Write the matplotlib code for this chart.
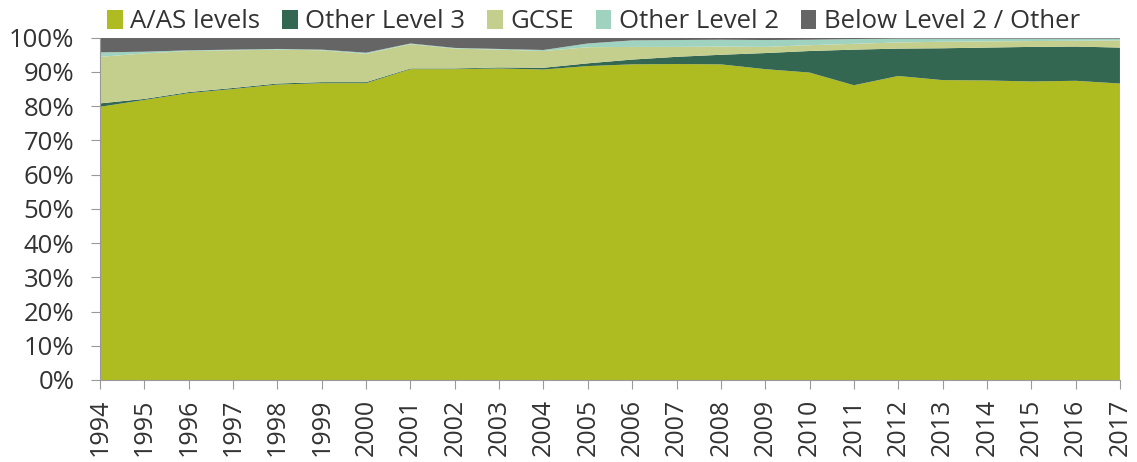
import matplotlib.pyplot as plt
from matplotlib.patches import Patch

# Andel per kvalifikation (%), 1994-2017
years = list(range(1994, 2018))
a_as = [79.8, 81.8, 83.8, 85.0, 86.3, 86.7, 86.7, 90.8, 90.8, 91.0, 90.7, 91.7,
        92.2, 92.3, 92.2, 90.8, 89.8, 86.1, 88.8, 87.6, 87.5, 87.2, 87.4, 86.6]
other_l3 = [1.0, 0.3, 0.3, 0.3, 0.3, 0.3, 0.3, 0.2, 0.2, 0.3, 0.5, 0.8,
            1.4, 2.1, 2.8, 4.7, 6.3, 10.4, 8.0, 9.3, 9.6, 10.1, 10.0, 10.5]
gcse = [13.6, 13.3, 12.0, 11.0, 9.9, 9.3, 8.3, 7.1, 5.8, 5.2, 4.9, 4.7,
        3.7, 2.9, 2.4, 1.8, 1.7, 1.7, 1.8, 1.9, 1.8, 1.7, 1.7, 2.1]
other_l2 = [1.3, 0.5, 0.2, 0.2, 0.2, 0.2, 0.3, 0.2, 0.2, 0.2, 0.3, 1.1,
            1.9, 2.0, 2.0, 2.0, 1.6, 1.4, 1.1, 0.9, 0.8, 0.7, 0.6, 0.5]
below_l2 = [4.3, 4.1, 3.7, 3.5, 3.3, 3.5, 4.4, 1.7, 3.0, 3.3, 3.6, 1.7,
            0.8, 0.7, 0.6, 0.7, 0.6, 0.4, 0.3, 0.3, 0.3, 0.3, 0.3, 0.3]

labels = ["A/AS levels", "Other Level 3", "GCSE", "Other Level 2", "Below Level 2 / Other"]
colors = ["#aebb21", "#336752", "#c5cf8d", "#9fd2bf", "#656565"]

plt.rcParams['font.family'] = ['Open Sans', 'DejaVu Sans']

fig = plt.figure(figsize=(11.37, 4.62), dpi=100)
ax = fig.add_axes([0.088, 0.1775, 0.897, 0.741])

ax.stackplot(years, a_as, other_l3, gcse, other_l2, below_l2, colors=colors, linewidth=0)

ax.set_xlim(1994, 2017)
ax.set_ylim(0, 100)
ax.set_xticks(years)
ax.set_xticklabels([str(y) for y in years], rotation=90, fontsize=18)
ax.set_yticks(range(0, 101, 10))
ax.set_yticklabels([f"{v}%" for v in range(0, 101, 10)], fontsize=18.5)

for side in ["top", "right"]:
    ax.spines[side].set_visible(False)
for side in ["left", "bottom"]:
    ax.spines[side].set_color("#999999")
ax.tick_params(color="#999999", length=6.5, labelcolor="#333333")
ax.tick_params(axis="y", pad=12)
ax.tick_params(axis="x", pad=7)

# Legend med fyrkantiga markörer
handles = [Patch(facecolor=c, edgecolor="none") for c in colors]
fig.legend(handles, labels, loc="upper left", bbox_to_anchor=(0.074, 1.03), ncol=5,
           frameon=False, fontsize=18.5, handlelength=0.6, handleheight=0.75,
           handletextpad=0.3, columnspacing=0.85, labelcolor="#333333")

fig.savefig("out.png", dpi=100)
